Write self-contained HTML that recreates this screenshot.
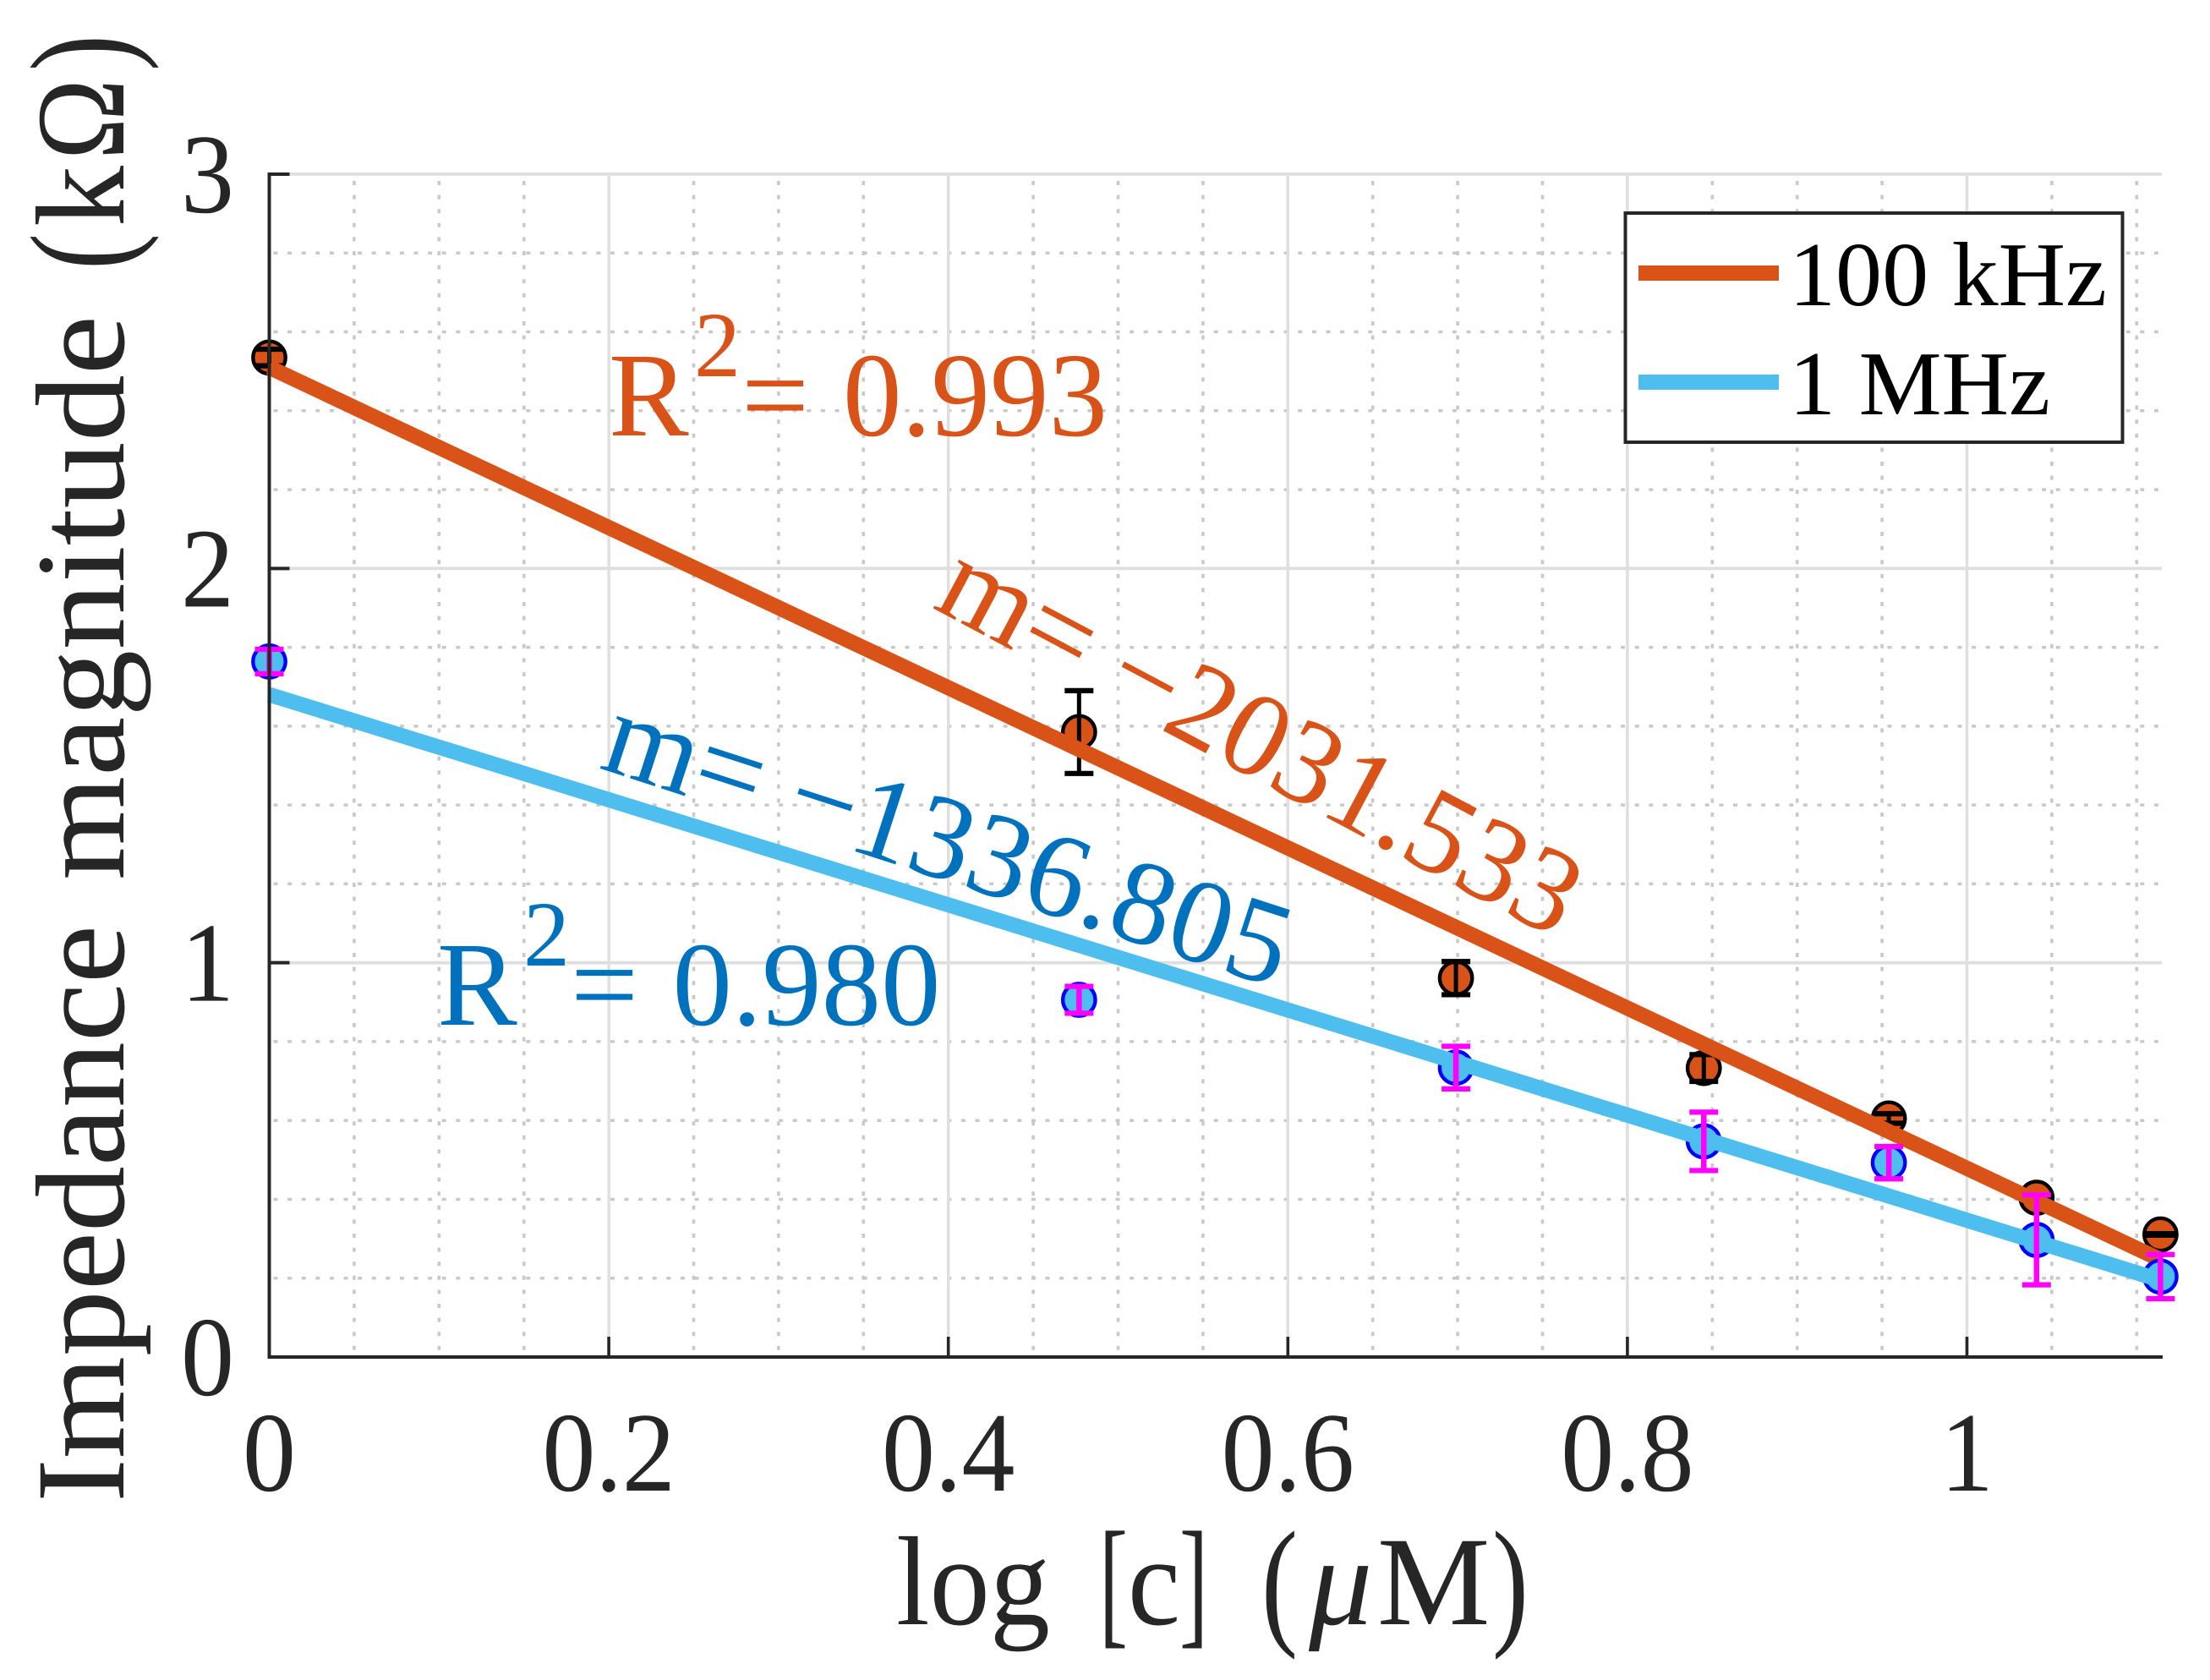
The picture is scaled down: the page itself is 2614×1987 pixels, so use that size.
<!DOCTYPE html>
<html lang="en">
<head>
<meta charset="utf-8">
<title>Impedance magnitude vs log concentration</title>
<style>
html,body{margin:0;padding:0;background:#fff;}
svg{display:block;}
text{font-family:"Liberation Serif","DejaVu Serif",serif;}
</style>
</head>
<body>
<svg id="chart" xmlns="http://www.w3.org/2000/svg" width="2614" height="1987" viewBox="0 0 2614 1987">
  <rect x="0" y="0" width="2614" height="1987" fill="#fff"/>
  <g id="grid"></g>
  <g id="marks"></g>
  <g id="axes"></g>

  <text font-size="150" fill="#262626"><tspan x="1060" y="1921" textLength="182" lengthAdjust="spacingAndGlyphs">log</tspan> <tspan x="1300" y="1927" font-size="168" textLength="34" lengthAdjust="spacingAndGlyphs">[</tspan><tspan x="1334" y="1921" textLength="62" lengthAdjust="spacingAndGlyphs">c</tspan><tspan x="1395" y="1927" font-size="168" textLength="34" lengthAdjust="spacingAndGlyphs">]</tspan> <tspan x="1492" y="1927" font-size="168" textLength="43" lengthAdjust="spacingAndGlyphs">(</tspan><tspan x="1548" y="1921" font-style="italic">μ</tspan><tspan x="1629" y="1921">M</tspan><tspan x="1765" y="1927" font-size="168" textLength="43" lengthAdjust="spacingAndGlyphs">)</tspan></text>

  <text transform="translate(146 1774) rotate(-90)" font-size="150" fill="#262626"><tspan x="-3" y="0" textLength="683" lengthAdjust="spacingAndGlyphs">Impedance</tspan> <tspan x="733" y="0" textLength="668" lengthAdjust="spacingAndGlyphs">magnitude</tspan> <tspan x="1455" y="6" font-size="168" textLength="43" lengthAdjust="spacingAndGlyphs">(</tspan><tspan x="1506" y="0" textLength="72" lengthAdjust="spacingAndGlyphs">k</tspan><tspan x="1585" y="0" textLength="96" lengthAdjust="spacingAndGlyphs">Ω</tspan><tspan x="1690" y="6" font-size="168" textLength="43" lengthAdjust="spacingAndGlyphs">)</tspan></text>

  <g fill="#D95319">
    <text x="720" y="515" font-size="142">R</text>
    <text x="821" y="445" font-size="110">2</text>
    <text x="877" y="515" font-size="142">=</text>
    <text x="997" y="515" font-size="142" textLength="313" lengthAdjust="spacingAndGlyphs">0.993</text>
  </g>
  <g fill="#0072BD">
    <text x="517" y="1212" font-size="142">R</text>
    <text x="619" y="1142" font-size="110">2</text>
    <text x="675" y="1212" font-size="142">=</text>
    <text x="795.5" y="1212" font-size="142" textLength="317" lengthAdjust="spacingAndGlyphs">0.980</text>
  </g>
  <text transform="translate(1101 718) rotate(28)" x="0" y="0" font-size="142" fill="#D95319" xml:space="preserve" textLength="836">m= −2031.533</text>
  <text transform="translate(707 908) rotate(18)" x="0" y="0" font-size="142" fill="#0072BD" xml:space="preserve" textLength="843">m= −1336.805</text>

  <g>
    <rect x="1922.5" y="252" width="588" height="271" fill="#fff" stroke="#262626" stroke-width="4"/>
    <rect x="1938" y="314" width="166" height="18" fill="#D95319"/>
    <text x="2116" y="361" font-size="108" fill="#000" textLength="376" lengthAdjust="spacingAndGlyphs">100 kHz</text>
    <rect x="1938" y="443" width="166" height="18" fill="#4DBEEE"/>
    <text x="2116" y="490" font-size="108" fill="#000" textLength="309" lengthAdjust="spacingAndGlyphs">1 MHz</text>
  </g>
</svg>

<script>
// ---- chart data ----
const logConcentration = [0, 0.477, 0.699, 0.845, 0.954, 1.041, 1.114];
const impedance100kHz = [2.535, 1.585, 0.961, 0.733, 0.605, 0.404, 0.311];
const error100kHz = [0.021, 0.105, 0.042, 0.034, 0.012, 0.005, 0.002];
const impedance1MHz = [1.764, 0.906, 0.734, 0.547, 0.493, 0.297, 0.204];
const error1MHz = [0.031, 0.034, 0.054, 0.074, 0.041, 0.114, 0.056];
const fitX = [0, 1.114];
const fit100kHz = [2.51, 0.247];
const fit1MHz = [1.68, 0.195];
const xTicks = [0, 0.2, 0.4, 0.6, 0.8, 1];
const xTickLabels = ['0', '0.2', '0.4', '0.6', '0.8', '1'];
const yTicks = [0, 1, 2, 3];
const yTickLabels = ['0', '1', '2', '3'];
const xMinorTicks = [0.05, 0.1, 0.15, 0.25, 0.3, 0.35, 0.45, 0.5, 0.55, 0.65, 0.7, 0.75, 0.85, 0.9, 0.95, 1.05, 1.1];
const yMinorTicks = [0.2, 0.4, 0.6, 0.8, 1.2, 1.4, 1.6, 1.8, 2.2, 2.4, 2.6, 2.8];
const xLimit = [0, 1.1148];
const yLimit = [0, 3];

// ---- axis functions ----
const plotLeft = 318.5, plotRight = 2557, plotTop = 206, plotBottom = 1605;
const xPerUnit = 2008;
const xScale = v => plotLeft + (v - xLimit[0]) * xPerUnit;
const yScale = v => plotBottom - (v - yLimit[0]) / (yLimit[1] - yLimit[0]) * (plotBottom - plotTop);

const NS = 'http://www.w3.org/2000/svg';
function make(parent, tag, attrs) {
  const el = document.createElementNS(NS, tag);
  for (const k in attrs) el.setAttribute(k, attrs[k]);
  parent.appendChild(el);
  return el;
}
function tickLabelWidth(label) {
  let em = 0;
  for (const ch of label) em += ch === '.' ? 0.25 : 0.5;
  return em * 134 * 0.94;
}
const grid = document.getElementById('grid');
const marks = document.getElementById('marks');
const axes = document.getElementById('axes');

// minor grid
xMinorTicks.forEach(v => {
  const el = make(grid, 'line', {x1: xScale(v), x2: xScale(v), y1: 214, y2: plotBottom, stroke: '#c9c9c9', 'stroke-width': 3.6, 'stroke-dasharray': '5 11.6'});
  
  
});
yMinorTicks.forEach(v => {
  const el = make(grid, 'line', {x1: 323.5, x2: plotRight, y1: yScale(v), y2: yScale(v), stroke: '#c9c9c9', 'stroke-width': 3.5, 'stroke-dasharray': '5 11.6'});
  
  
});
// major grid
xTicks.slice(1).forEach(v => {
  const el = make(grid, 'line', {x1: xScale(v), x2: xScale(v), y1: plotTop, y2: plotBottom, stroke: '#dfdfdf', 'stroke-width': 3.5});
  
  
});
yTicks.slice(1).forEach(v => {
  const el = make(grid, 'line', {x1: plotLeft, x2: plotRight, y1: yScale(v), y2: yScale(v), stroke: '#dfdfdf', 'stroke-width': 3.8});
  
  
});

// marks
function drawMarkers(values, fill, edge, name) {
  logConcentration.forEach((x, i) => {
    const el = make(marks, 'circle', {cx: xScale(x), cy: yScale(values[i]), r: 19.2, fill: fill, stroke: edge, 'stroke-width': 4.4});
    
    
  });
}
function drawErrors(values, errors, color, stemWidth, name) {
  logConcentration.forEach((x, i) => {
    const g = make(marks, 'g', {stroke: color});
    
    
    const cx = xScale(x), hi = yScale(values[i] + errors[i]), lo = yScale(values[i] - errors[i]);
    make(g, 'line', {x1: cx, x2: cx, y1: hi, y2: lo, 'stroke-width': stemWidth});
    make(g, 'line', {x1: cx - 17, x2: cx + 17, y1: hi, y2: hi, 'stroke-width': 6.2});
    make(g, 'line', {x1: cx - 17, x2: cx + 17, y1: lo, y2: lo, 'stroke-width': 6.2});
  });
}
function drawFit(values, color, name) {
  const el = make(marks, 'line', {x1: xScale(fitX[0]), y1: yScale(values[0]), x2: xScale(fitX[1]), y2: yScale(values[1]), stroke: color, 'stroke-width': 18});
  
  
}
drawMarkers(impedance100kHz, '#D95319', '#000', 'point-100khz');
drawErrors(impedance100kHz, error100kHz, '#000', 5, 'error-bar-100khz');
drawFit(fit100kHz, '#D95319', 'fit-line-100khz');
drawMarkers(impedance1MHz, '#4DBEEE', '#0000FF', 'point-1mhz');
drawFit(fit1MHz, '#4DBEEE', 'fit-line-1mhz');
drawErrors(impedance1MHz, error1MHz, '#FF00FF', 6.5, 'error-bar-1mhz');

// axes
const yAxisLine = make(axes, 'line', {x1: plotLeft, x2: plotLeft, y1: plotTop - 2, y2: plotBottom + 2, stroke: '#262626', 'stroke-width': 4});


const xAxisLine = make(axes, 'line', {x1: plotLeft - 2, x2: plotRight + 1, y1: plotBottom, y2: plotBottom, stroke: '#262626', 'stroke-width': 4});



xTicks.forEach((v, i) => {
  if (v !== 0) {
    const t = make(axes, 'line', {x1: xScale(v), x2: xScale(v), y1: plotBottom, y2: plotBottom - 24, stroke: '#262626', 'stroke-width': 3.6});
    
    
  }
  const label = make(axes, 'text', {x: xScale(v), y: 1763, 'font-size': 134, 'text-anchor': 'middle', fill: '#262626', textLength: tickLabelWidth(xTickLabels[i]), lengthAdjust: 'spacingAndGlyphs'});
  label.textContent = xTickLabels[i];
  
  
});
yTicks.forEach((v, i) => {
  if (v !== 0) {
    const t = make(axes, 'line', {x1: plotLeft, x2: plotLeft + 24, y1: yScale(v), y2: yScale(v), stroke: '#262626', 'stroke-width': 4});
    
    
  }
  const label = make(axes, 'text', {x: 277, y: yScale(v) + 45, 'font-size': 134, 'text-anchor': 'end', fill: '#262626', textLength: tickLabelWidth(yTickLabels[i]), lengthAdjust: 'spacingAndGlyphs'});
  label.textContent = yTickLabels[i];
  
  
});
</script>
</body>
</html>
